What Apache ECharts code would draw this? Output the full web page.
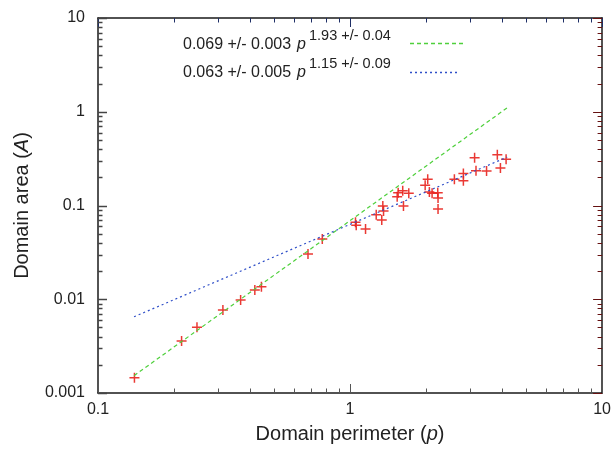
<!DOCTYPE html>
<html>
<head>
<meta charset="utf-8">
<script src="https://cdn.jsdelivr.net/npm/echarts@6/dist/echarts.min.js"></script>
<style>
html,body{margin:0;padding:0;background:#fff;}
#chart{width:614px;height:449px;}
</style>
</head>
<body>
<div id="chart"></div>
<script>
// Measured domains: perimeter p and area A
const domainPerimeter = [0.1395, 0.2146, 0.247, 0.313, 0.368, 0.419, 0.445, 0.681, 0.776, 1.051, 1.058, 1.152,
  1.27, 1.336, 1.349, 1.358, 1.538, 1.552, 1.618, 1.629, 1.710, 1.986, 2.033, 2.064, 2.116, 2.228, 2.234, 2.234,
  2.594, 2.816, 2.816, 3.12, 3.16, 3.48, 3.84, 3.95, 4.16];
const domainArea = [0.00145, 0.00359, 0.00502, 0.00767, 0.00982, 0.01256, 0.0136, 0.0304, 0.0440, 0.0662, 0.0615, 0.0561,
  0.0798, 0.070, 0.0988, 0.0873, 0.124, 0.137, 0.144, 0.0988, 0.135, 0.164, 0.190, 0.139, 0.135, 0.137, 0.120, 0.0919,
  0.190, 0.220, 0.184, 0.324, 0.235, 0.233, 0.348, 0.251, 0.311];

// Fit lines (endpoints)
const fitQuadP = [0.139, 4.2];
const fitQuadA = [0.00153, 1.10];
const fitLinP = [0.139, 4.2];
const fitLinA = [0.0065, 0.328];

const legendMain = ['0.069 +/- 0.003', '0.063 +/- 0.005'];
const legendSup = ['1.93 +/- 0.04', '1.15 +/- 0.09'];

const xMajor = [0.1, 1, 10];
const yMajor = [0.001, 0.01, 0.1, 1, 10];
const xTickLabels = ['0.1', '1', '10'];
const yTickLabels = ['0.001', '0.01', '0.1', '1', '10'];
const xMinor = [0.2,0.3,0.4,0.5,0.6,0.7,0.8,0.9,2,3,4,5,6,7,8,9];
const yMinor = [0.002,0.003,0.004,0.005,0.006,0.007,0.008,0.009,0.02,0.03,0.04,0.05,0.06,0.07,0.08,0.09,
  0.2,0.3,0.4,0.5,0.6,0.7,0.8,0.9,2,3,4,5,6,7,8,9];

const FONT = 'Liberation Sans, Arial, sans-serif';
const GREEN = '#4fd03c';
const BLUE = '#2f4fc8';
const RED = '#e8231e';
const INK = '#1a1a1a';

const scatterData = domainPerimeter.map((p, i) => [p, domainArea[i]]);
const quadData = fitQuadP.map((p, i) => [p, fitQuadA[i]]);
const linData = fitLinP.map((p, i) => [p, fitLinA[i]]);

function fmtX(v) { const i = xMajor.findIndex(m => Math.abs(m - v) / m < 1e-6); return i >= 0 ? xTickLabels[i] : ''; }
function fmtY(v) { const i = yMajor.findIndex(m => Math.abs(m - v) / m < 1e-6); return i >= 0 ? yTickLabels[i] : ''; }

const axisLine = {show: true, lineStyle: {color: INK, width: 1.5}};
const label = {color: '#222', fontSize: 16, fontFamily: FONT};

const chart = echarts.init(document.getElementById('chart'), null, {renderer: 'canvas'});
chart.setOption({
  animation: false,
  backgroundColor: '#fff',
  grid: {left: 98, right: 11, top: 18, bottom: 56, containLabel: false},
  xAxis: [
    {type: 'log', logBase: 10, min: 0.1, max: 10, position: 'bottom',
     axisLine: axisLine, axisTick: {show: false}, splitLine: {show: false},
     axisLabel: Object.assign({margin: 9, formatter: fmtX}, label),
     name: 'Domain perimeter ({i|p})', nameLocation: 'middle', nameGap: 31,
     nameTextStyle: {fontSize: 20, color: '#222', fontFamily: FONT,
       rich: {i: {fontStyle: 'italic', fontSize: 20, color: '#222', fontFamily: FONT}}}},
    {type: 'log', logBase: 10, min: 0.1, max: 10, position: 'top',
     axisLine: axisLine, axisTick: {show: false}, splitLine: {show: false}, axisLabel: {show: false}}
  ],
  yAxis: [
    {type: 'log', logBase: 10, min: 0.001, max: 10, position: 'left',
     axisLine: axisLine, axisTick: {show: false}, splitLine: {show: false},
     axisLabel: Object.assign({margin: 13, formatter: fmtY}, label),
     name: 'Domain area ({i|A})', nameLocation: 'middle', nameGap: 66,
     nameTextStyle: {fontSize: 20, color: '#222', fontFamily: FONT,
       rich: {i: {fontStyle: 'italic', fontSize: 20, color: '#222', fontFamily: FONT}}}},
    {type: 'log', logBase: 10, min: 0.001, max: 10, position: 'right',
     axisLine: axisLine, axisTick: {show: false}, splitLine: {show: false}, axisLabel: {show: false}}
  ],
  series: [
    {type: 'line', data: quadData, symbol: 'none', silent: true,
     lineStyle: {color: GREEN, width: 1.2, type: [4, 3]}},
    {type: 'line', data: linData, symbol: 'none', silent: true,
     lineStyle: {color: BLUE, width: 1.2, type: [2, 3]}},
    {type: 'scatter', data: scatterData, symbol: 'path://M0,5L10,5M5,0L5,10', symbolSize: 10,
     itemStyle: {color: 'none', borderColor: RED, borderWidth: 1.5, opacity: 0.9}}
  ]
});

// Inward ticks mirrored on all four sides, positioned through the axes' scales
const g = [];
const x0 = chart.convertToPixel({xAxisIndex: 0}, xMajor[0]);
const x1 = chart.convertToPixel({xAxisIndex: 0}, xMajor[xMajor.length - 1]);
const yb = chart.convertToPixel({yAxisIndex: 0}, yMajor[0]);
const yt = chart.convertToPixel({yAxisIndex: 0}, yMajor[yMajor.length - 1]);
const sBottom = {stroke: '#555555', lineWidth: 1};
const sTop = {stroke: '#1f2f66', lineWidth: 1};
const sLeft = {stroke: '#444444', lineWidth: 1.5};
const sRight = {stroke: '#661111', lineWidth: 1};
function tickLine(xa, ya, xb, yb2, s) {
  g.push({type: 'line', silent: true, z: 10, shape: {x1: xa, y1: ya, x2: xb, y2: yb2}, style: Object.assign({}, s)});
}
function xt(v, len) { const x = Math.round(chart.convertToPixel({xAxisIndex: 0}, v)) + 0.5; tickLine(x, yb, x, yb - len, sBottom); tickLine(x, yt, x, yt + len, sTop); }
function ytk(v, len) { const y = Math.round(chart.convertToPixel({yAxisIndex: 0}, v)) + 0.5; tickLine(x0, y, x0 + len, y, sLeft); tickLine(x1, y, x1 - len, y, sRight); }
xMajor.forEach(v => xt(v, 9));
xMinor.forEach(v => xt(v, 4.5));
yMajor.forEach(v => ytk(v, 9));
yMinor.forEach(v => ytk(v, 4.5));

// Key: text + line samples
const keyRows = [{top: 37, supTop: 28, lineY: 43.5, x2: 464, color: GREEN, dash: [4, 3]},
                 {top: 65, supTop: 56, lineY: 72.5, x2: 460, color: BLUE, dash: [2, 3]}];
keyRows.forEach((r, i) => {
  g.push({type: 'text', left: 183, top: r.top, style: {text: legendMain[i], fontSize: 16, fontFamily: FONT, fill: '#222'}});
  g.push({type: 'text', left: 297, top: r.top, style: {text: 'p', fontSize: 16, fontFamily: FONT, fontStyle: 'italic', fill: '#222'}});
  g.push({type: 'text', left: 309, top: r.supTop, style: {text: legendSup[i], fontSize: 14.5, fontFamily: FONT, fill: '#222'}});
  g.push({type: 'line', shape: {x1: 410, y1: r.lineY, x2: r.x2, y2: r.lineY},
          style: {stroke: r.color, lineWidth: 1.3, lineDash: r.dash}});
});
chart.setOption({graphic: g});
</script>
</body>
</html>
